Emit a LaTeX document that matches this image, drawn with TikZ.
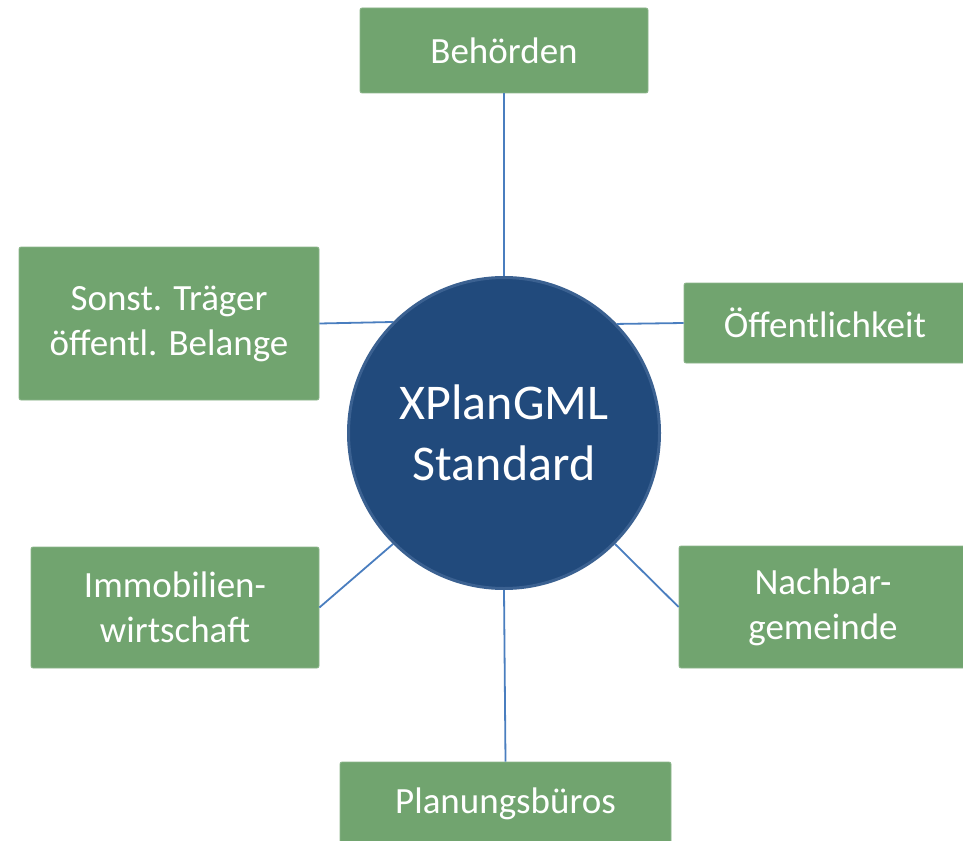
\documentclass[tikz,border=0pt]{standalone}
\usepackage{fontspec}
\setmainfont{Carlito}
\usetikzlibrary{arrows,shapes,positioning}
\definecolor{boxgreen}{HTML}{71A46F}
\definecolor{hubblue}{HTML}{214A7C}
\definecolor{hubedge}{HTML}{3B6191}
\definecolor{linkblue}{HTML}{4A7EBF}

\begin{document}
\begin{tikzpicture}[x=1pt,y=-1pt]
                    \tikzstyle{party}=[rectangle, fill=boxgreen, draw=boxgreen!80!white, line width=0.8pt, rounded corners=2pt, text=white, align=center, inner sep=0pt, font=\fontsize{37}{45}\selectfont]
                    \tikzstyle{hub}=[circle, fill=hubblue, draw=hubedge, line width=3pt, text=white, align=center, inner sep=0pt, minimum size=311pt, font=\fontsize{50}{61}\selectfont]
                    \tikzstyle{link}=[draw=linkblue, line width=1.8pt]
                    \useasboundingbox (0,0) rectangle (963,840);
                    \clip (0,0) rectangle (963,840);
                    \node [hub] (xplan) at (504,433) {XPlanGML\\Standard};
                    \node [party, minimum width=288pt, minimum height=85pt] (behoerden) at (504,50.5) {Behörden};
                    \node [party, minimum width=300pt, minimum height=153pt] (traeger) at (169,323.5) {Sonst. Träger\\öffentl. Belange};
                    \node [party, minimum width=282pt, minimum height=80pt] (oeffentlichkeit) at (825,323) {Öffentlichkeit};
                    \node [party, minimum width=288pt, minimum height=121pt] (immobilien) at (175,607.5) {Immobilien-\\wirtschaft};
                    \node [party, minimum width=288pt, minimum height=122pt] (nachbar) at (823,607) {Nachbar-\\gemeinde};
                    \node [party, minimum width=331pt, minimum height=84pt] (planung) at (505.5,804) {Planungsbüros};
                    \draw [link] (behoerden.south) -- (xplan.north);
                    \draw [link] (traeger.east) -- (xplan.135.5);
                    \draw [link] (oeffentlichkeit.west) -- (xplan.44.5);
                    \draw [link] (immobilien.east) -- (xplan.225);
                    \draw [link] (nachbar.west) -- (xplan.-45);
                    \draw [link] (planung.north) -- (xplan.south);
\end{tikzpicture}
\end{document}
